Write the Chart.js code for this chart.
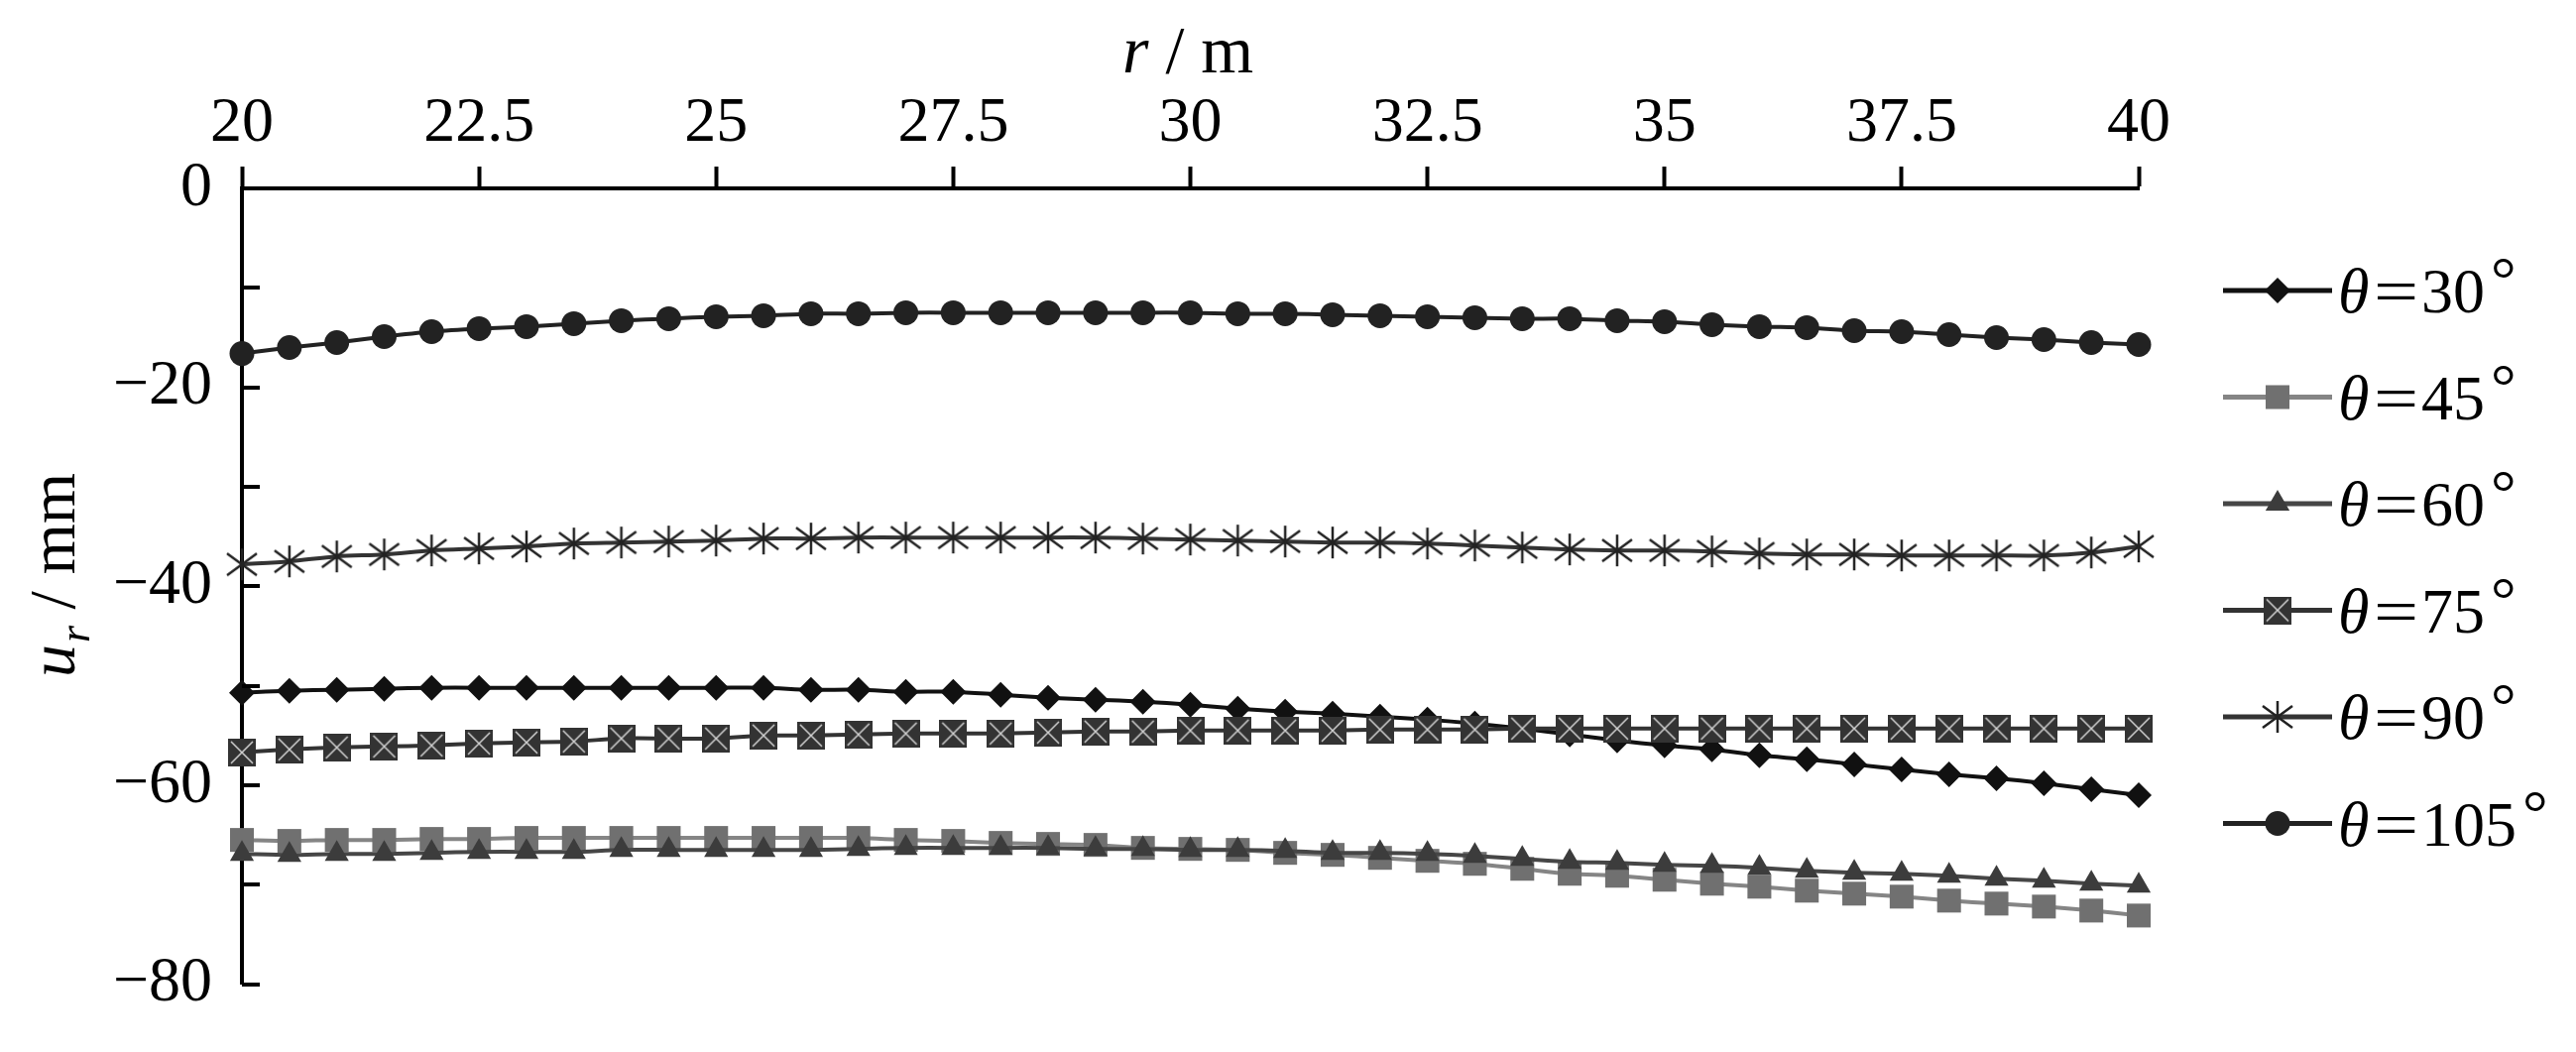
<!DOCTYPE html>
<html>
<head>
<meta charset="utf-8">
<script src="https://cdn.jsdelivr.net/npm/chart.js@4.4.1/dist/chart.umd.min.js"></script>
<style>
  html, body { margin: 0; padding: 0; background: #fff; }
  #wrap { width: 2598px; height: 1061px; }
</style>
</head>
<body>
<div id="wrap"><canvas id="chart" width="2598" height="1061"></canvas></div>
<script>
// --- DATA ---
const radius = [20, 20.5, 21, 21.5, 22, 22.5, 23, 23.5, 24, 24.5, 25, 25.5, 26, 26.5,
  27, 27.5, 28, 28.5, 29, 29.5, 30, 30.5, 31, 31.5, 32, 32.5, 33,
  33.5, 34, 34.5, 35, 35.5, 36, 36.5, 37, 37.5, 38, 38.5, 39, 39.5, 40];

const theta = ['30', '45', '60', '75', '90', '105'];

const u30 = [-50.7, -50.5, -50.4, -50.3, -50.2, -50.2, -50.2, -50.2, -50.2, -50.2, -50.2, -50.2, -50.4, -50.4,
  -50.6, -50.6, -50.9, -51.2, -51.4, -51.6, -51.9, -52.3, -52.6, -52.8, -53.1, -53.4, -53.8,
  -54.3, -54.9, -55.5, -56.0, -56.4, -57.0, -57.4, -57.9, -58.4, -58.9, -59.3, -59.8, -60.4, -61.0];
const u45 = [-65.5, -65.6, -65.5, -65.5, -65.4, -65.4, -65.3, -65.3, -65.3, -65.3, -65.3, -65.3, -65.3, -65.3,
  -65.5, -65.6, -65.8, -65.9, -66.0, -66.3, -66.4, -66.5, -66.8, -67.0, -67.3, -67.6, -67.9,
  -68.4, -68.9, -69.1, -69.5, -69.9, -70.2, -70.6, -70.9, -71.2, -71.6, -71.9, -72.2, -72.6, -73.1];
const u60 = [-66.9, -67.0, -66.9, -66.9, -66.8, -66.7, -66.7, -66.7, -66.5, -66.5, -66.5, -66.5, -66.5, -66.4,
  -66.3, -66.3, -66.3, -66.3, -66.4, -66.4, -66.5, -66.5, -66.6, -66.8, -66.8, -66.9, -67.1,
  -67.4, -67.7, -67.8, -68.0, -68.1, -68.3, -68.6, -68.8, -68.9, -69.1, -69.4, -69.6, -69.9, -70.1];
const u75 = [-56.7, -56.4, -56.2, -56.1, -56.0, -55.8, -55.7, -55.6, -55.3, -55.3, -55.3, -55.0, -55.0, -54.9,
  -54.8, -54.8, -54.8, -54.7, -54.6, -54.6, -54.5, -54.5, -54.5, -54.5, -54.4, -54.4, -54.4,
  -54.3, -54.3, -54.3, -54.3, -54.3, -54.3, -54.3, -54.3, -54.3, -54.3, -54.3, -54.3, -54.3, -54.3];
const u90 = [-37.8, -37.5, -37.0, -36.8, -36.4, -36.2, -36.0, -35.7, -35.6, -35.5, -35.4, -35.2, -35.2, -35.1,
  -35.1, -35.1, -35.1, -35.1, -35.1, -35.2, -35.3, -35.4, -35.5, -35.6, -35.6, -35.7, -35.9,
  -36.1, -36.3, -36.4, -36.4, -36.5, -36.7, -36.8, -36.8, -36.9, -36.9, -36.9, -36.9, -36.6, -36.0];
const u105 = [-16.6, -16.0, -15.5, -14.9, -14.4, -14.1, -13.9, -13.6, -13.3, -13.1, -12.9, -12.8, -12.6, -12.6,
  -12.5, -12.5, -12.5, -12.5, -12.5, -12.5, -12.5, -12.6, -12.6, -12.7, -12.8, -12.9, -13.0,
  -13.1, -13.1, -13.3, -13.4, -13.7, -13.9, -14.0, -14.3, -14.4, -14.7, -15.0, -15.2, -15.5, -15.7];

const xTickValues = [20, 22.5, 25, 27.5, 30, 32.5, 35, 37.5, 40];
const yTickValues = [0, -10, -20, -30, -40, -50, -60, -70, -80];
const yLabelValues = [0, -20, -40, -60, -80];

// --- MARKERS ---
function makeXSquare(size) {
  const c = document.createElement('canvas');
  c.width = c.height = size;
  const g = c.getContext('2d');
  g.fillStyle = '#333';
  g.fillRect(0, 0, size, size);
  g.strokeStyle = '#d4d4d4';
  g.lineWidth = 1.5;
  g.beginPath();
  g.moveTo(3, 3); g.lineTo(size - 3, size - 3);
  g.moveTo(size - 3, 3); g.lineTo(3, size - 3);
  g.stroke();
  return c;
}

function makeAsterisk(size) {
  const c = document.createElement('canvas');
  c.width = c.height = size;
  const g = c.getContext('2d');
  g.strokeStyle = '#222';
  g.lineWidth = 2.5;
  g.beginPath();
  g.moveTo(size / 2, 1); g.lineTo(size / 2, size - 1);
  g.moveTo(2, 6); g.lineTo(size - 2, size - 6);
  g.moveTo(size - 2, 6); g.lineTo(2, size - 6);
  g.stroke();
  return c;
}

const xSquare = makeXSquare(28);
const asterisk = makeAsterisk(34);

const series = [
  { values: u30, line: '#111', fill: '#111', style: 'rectRot', r: 13 },
  { values: u45, line: '#858585', fill: '#707070', style: 'rect', r: 17 },
  { values: u60, line: '#464646', fill: '#3c3c3c', style: 'triangle', r: 14 },
  { values: u75, line: '#333', fill: '#333', style: xSquare, r: 14 },
  { values: u90, line: '#333', fill: '#222', style: asterisk, r: 16 },
  { values: u105, line: '#222', fill: '#222', style: 'circle', r: 12.5 },
];

const FONT = "'Liberation Serif', 'Times New Roman', serif";

// --- DECORATIONS: inward y ticks, titles, legend ---
const decorPlugin = {
  id: 'decor',
  afterDraw(chart) {
    const ctx = chart.ctx;
    const area = chart.chartArea;
    const ys = chart.scales.y;
    ctx.save();

    // y ticks point into the plot
    ctx.strokeStyle = '#000';
    ctx.lineWidth = 4;
    ys.ticks.forEach(t => {
      const py = Math.round(ys.getPixelForValue(t.value));
      ctx.beginPath();
      ctx.moveTo(area.left, py);
      ctx.lineTo(area.left + 18, py);
      ctx.stroke();
    });

    ctx.fillStyle = '#000';
    ctx.textBaseline = 'alphabetic';
    ctx.textAlign = 'left';

    // x title: r / m
    let x = 1132;
    ctx.font = 'italic 68px ' + FONT;
    ctx.fillText('r', x, 73);
    x += ctx.measureText('r').width;
    ctx.font = '68px ' + FONT;
    ctx.fillText(' / m', x, 73);

    // y title: u_r / mm (rotated)
    ctx.save();
    ctx.translate(75, 683);
    ctx.rotate(-Math.PI / 2);
    let tx = 0;
    ctx.font = 'italic 66px ' + FONT;
    ctx.fillText('u', tx, 0);
    tx += ctx.measureText('u').width + 2;
    ctx.font = 'italic 44px ' + FONT;
    ctx.fillText('r', tx, 15);
    tx += ctx.measureText('r').width;
    ctx.font = '66px ' + FONT;
    ctx.fillText(' / mm', tx, 0);
    ctx.restore();

    // legend
    chart.data.datasets.forEach((ds, i) => {
      const rowY = 293 + i * 107.5;
      ctx.strokeStyle = ds.borderColor;
      ctx.lineWidth = 5;
      ctx.beginPath();
      ctx.moveTo(2242, rowY);
      ctx.lineTo(2352, rowY);
      ctx.stroke();
      ctx.fillStyle = ds.pointBackgroundColor;
      Chart.helpers.drawPoint(ctx, {
        pointStyle: ds.pointStyle, radius: ds.pointRadius, rotation: 0, borderWidth: 0
      }, 2297, rowY);

      ctx.fillStyle = '#000';
      const base = rowY + 22;
      ctx.font = 'italic 64px ' + FONT;
      ctx.fillText('\u03B8', 2358, base);
      ctx.font = '64px ' + FONT;
      // wide equals sign as in the original
      ctx.save();
      ctx.translate(2394, base);
      ctx.scale(1.25, 1);
      ctx.fillText('=', 0, 0);
      ctx.restore();
      ctx.fillText(theta[i], 2442, base);
      const w = ctx.measureText(theta[i]).width;
      ctx.fillText('\u00B0', 2442 + w + 6, base - 12);
    });

    ctx.restore();
  }
};

// --- CHART ---
const datasets = series.map((s, i) => ({
  label: '\u03B8=' + theta[i] + '\u00B0',
  data: radius.map((r, k) => ({ x: r, y: s.values[k] })),
  borderColor: s.line,
  borderWidth: 4,
  pointStyle: s.style,
  pointRadius: s.r,
  pointBackgroundColor: s.fill,
  pointBorderWidth: 0,
  tension: 0.3,
  clip: false,
  order: series.length - i,
}));

new Chart(document.getElementById('chart'), {
  type: 'line',
  data: { datasets },
  options: {
    responsive: false,
    animation: false,
    devicePixelRatio: 1,
    layout: { padding: { left: 0, top: 0, right: 441, bottom: 58 } },
    plugins: { legend: { display: false }, tooltip: { enabled: false } },
    scales: {
      x: {
        type: 'linear',
        position: 'top',
        min: 20,
        max: 40,
        afterBuildTicks: scale => { scale.ticks = xTickValues.map(v => ({ value: v })); },
        afterFit: scale => { scale.height = 190; },
        ticks: {
          color: '#000',
          font: { family: FONT, size: 64 },
          padding: 4,
          maxRotation: 0,
          autoSkip: false,
          callback: v => String(v),
        },
        grid: {
          drawOnChartArea: false,
          drawTicks: true,
          tickLength: 22,
          tickWidth: 4,
          tickColor: '#000',
        },
        border: { display: true, color: '#000', width: 4 },
      },
      y: {
        type: 'linear',
        min: -80,
        max: 0,
        afterBuildTicks: scale => { scale.ticks = yTickValues.map(v => ({ value: v })); },
        afterFit: scale => { scale.width = 244; },
        ticks: {
          color: '#000',
          font: { family: FONT, size: 64 },
          padding: 30,
          autoSkip: false,
          callback: v => yLabelValues.includes(v) ? (v < 0 ? '\u2212' + Math.abs(v) : String(v)) : '',
        },
        grid: { drawOnChartArea: false, drawTicks: false },
        border: { display: true, color: '#000', width: 4 },
      },
    },
  },
  plugins: [decorPlugin],
});
</script>
</body>
</html>
